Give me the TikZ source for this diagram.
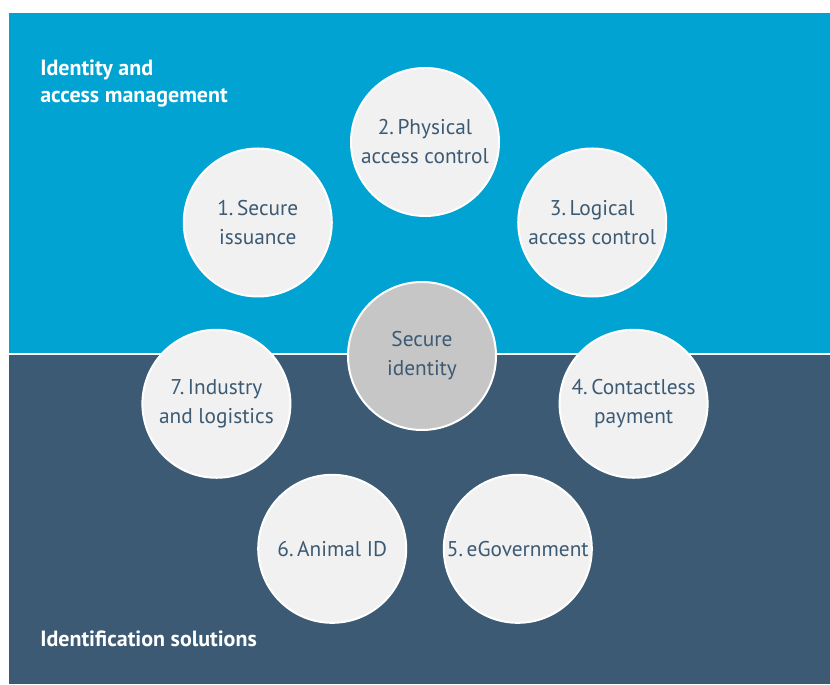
\documentclass[tikz,border=0pt]{standalone}
\usepackage{fontspec}
\setmainfont{PT Sans}
\usepackage{tikz}
\usetikzlibrary{positioning}
\definecolor{skyblue}{HTML}{01A3D2}
\definecolor{slate}{HTML}{3C5A73}
\definecolor{bubble}{HTML}{F1F1F1}
\definecolor{hubgrey}{HTML}{C6C6C6}
\tikzset{
  usecase/.style={
    circle, draw=white, line width=1.5pt, fill=#1,
    minimum size=111pt, inner sep=0pt, align=center,
    font=\fontsize{16}{21.75}\selectfont, text=slate
  },
  usecase/.default=bubble,
  heading/.style={
    inner sep=0pt, align=left,
    font=\fontsize{16.5}{20.25}\selectfont\bfseries, text=white
  },
}

\begin{document}
\begin{tikzpicture}[x=0.75pt, y=0.75pt]
  \useasboundingbox (0,0) rectangle (830,684);
  % background bands
  \fill[skyblue] (9,331) rectangle (830,671);
  \fill[slate] (9,0) rectangle (830,329);

  \node[heading, anchor=north west] (iam) at (40,624) {Identity and\\access management};
  \node[heading, anchor=base west] (ids) at (40,37) {Identification solutions};

  \node[usecase=hubgrey] (hub) at (422,328) {Secure\\identity};
  \coordinate (ring) at (425,328);

  \node[usecase] (issuance) at ([shift={(141.4:214)}]ring) {1.\,Secure\\issuance};
  \node[usecase] (physical) at ([shift={(90:214)}]ring) {2.\,Physical\\access control};
  \node[usecase] (logical)  at ([shift={(38.6:214)}]ring) {3.\,Logical\\access control};
  \node[usecase] (payment)  at ([shift={(-12.9:214)}]ring) {4.\,Contactless\\payment};
  \node[usecase] (egov)     at ([shift={(-64.3:214)}]ring) {5.\,eGovernment};
  \node[usecase] (animal)   at ([shift={(-115.7:214)}]ring) {6.\,Animal ID};
  \node[usecase] (industry) at ([shift={(-167.1:214)}]ring) {7.\,Industry\\and logistics};
\end{tikzpicture}
\end{document}
